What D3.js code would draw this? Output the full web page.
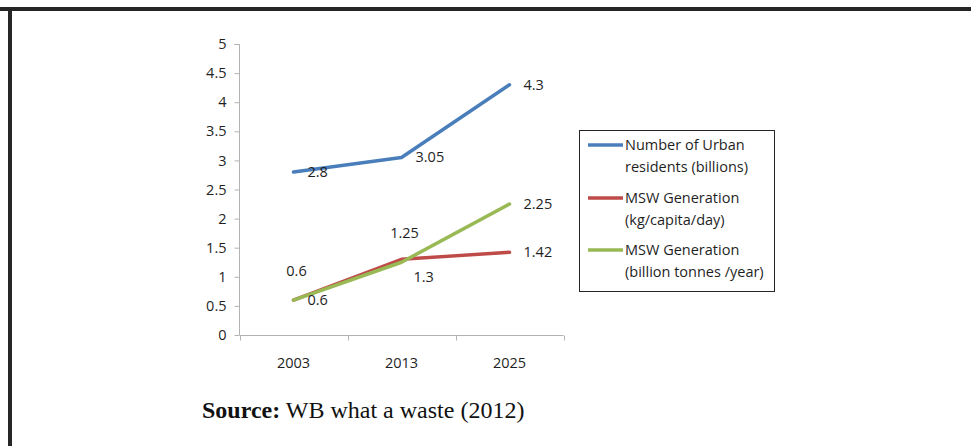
<!DOCTYPE html>
<html>
<head>
<meta charset="utf-8">
<script src="https://cdn.jsdelivr.net/npm/d3@7"></script>
<style>
  html, body { margin: 0; padding: 0; background: #fff; }
  svg { display: block; }
  .tick text, .lbl, .leg { font-family: "Open Sans", Lato, sans-serif; fill: #1f1f1f; }
</style>
</head>
<body>
<svg id="chart" width="971" height="446"></svg>
<script>
// Years on the category axis
const years = ["2003", "2013", "2025"];
// Series values
const urbanResidents = [2.8, 3.05, 4.3];      // billions
const mswPerCapita   = [0.6, 1.3, 1.42];      // kg/capita/day
const mswTotal       = [0.6, 1.25, 2.25];     // billion tonnes/year
// Value-axis ticks
const yTicks = [0, 0.5, 1, 1.5, 2, 2.5, 3, 3.5, 4, 4.5, 5];
// Legend text (two lines each)
const seriesNames = [
  ["Number of Urban", "residents (billions)"],
  ["MSW Generation", "(kg/capita/day)"],
  ["MSW Generation", "(billion tonnes /year)"]
];
// Where each point's value label sits relative to the point
const labelPlacement = [
  ["right", "right", "right"],
  ["above", "belowRight", "right"],
  ["right", "above", "right"]
];
const colors = ["#4a7ebb", "#be4b48", "#98b954"];

const FS = "14.5px";
const svg = d3.select("#chart");

// Outer frame (top and left rules)
svg.append("rect").attr("x", 0).attr("y", 7).attr("width", 971).attr("height", 4).attr("fill", "#262626");
svg.append("rect").attr("x", 8).attr("y", 7).attr("width", 4).attr("height", 439).attr("fill", "#262626");

const x = d3.scaleBand().domain(years).range([239.5, 563.5]);
const y = d3.scaleLinear().domain([0, 5]).range([335, 44]);

// Value axis
const yAxis = svg.append("g")
  .attr("transform", "translate(239.5,0)")
  .call(d3.axisLeft(y).tickValues(yTicks).tickSize(5).tickPadding(8).tickFormat(d3.format("")));
yAxis.selectAll("line, path").attr("stroke", "#b3b3b3");
yAxis.select("path").attr("d", `M-5,${y(5)+0.5}H0V${y(0)}`);
yAxis.selectAll("text").style("font-size", FS);

// Category axis
const xAxis = svg.append("g").attr("transform", `translate(0,${y(0) + 0.5})`);
xAxis.append("line").attr("x1", 239.5).attr("x2", 563.5).attr("stroke", "#b3b3b3");
const bounds = years.map(d => x(d)).concat([x.range()[1]]);
xAxis.selectAll("line.tk").data(bounds).enter().append("line").attr("class", "tk")
  .attr("x1", d => Math.round(d) + 0.5).attr("x2", d => Math.round(d) + 0.5)
  .attr("y1", 0).attr("y2", 5).attr("stroke", "#b3b3b3");
xAxis.selectAll("text").data(years).enter().append("text")
  .attr("class", "lbl")
  .attr("x", d => x(d) + x.bandwidth() / 2)
  .attr("y", 32)
  .attr("text-anchor", "middle")
  .style("font-size", FS)
  .text(d => d);

const series = [urbanResidents, mswPerCapita, mswTotal];
const line = d3.line()
  .x((d, i) => x(years[i]) + x.bandwidth() / 2)
  .y(d => y(d));

series.forEach((vals, s) => {
  svg.append("path")
    .datum(vals)
    .attr("d", line)
    .attr("fill", "none")
    .attr("stroke", colors[s])
    .attr("stroke-width", 3.5)
    .attr("stroke-linejoin", "round")
    .attr("stroke-linecap", "round");
});

// Value labels
series.forEach((vals, s) => {
  vals.forEach((v, i) => {
    const px = x(years[i]) + x.bandwidth() / 2;
    const py = y(v);
    const where = labelPlacement[s][i];
    let tx = px + 14, ty = py + 5, anchor = "start";
    if (where === "above") { tx = px + 3; ty = py - 24; anchor = "middle"; }
    if (where === "belowRight") { tx = px + 12; ty = py + 23; anchor = "start"; }
    svg.append("text").attr("class", "lbl")
      .attr("x", tx).attr("y", ty)
      .attr("text-anchor", anchor)
      .style("font-size", FS)
      .text(v);
  });
});

// Legend
const leg = svg.append("g");
leg.append("rect").attr("x", 579.5).attr("y", 130.5).attr("width", 195).attr("height", 161)
  .attr("fill", "#fff").attr("stroke", "#262626").attr("stroke-width", 1);
const entryY = [145, 198, 250];
seriesNames.forEach((name, s) => {
  leg.append("line").attr("x1", 588).attr("x2", 623)
    .attr("y1", entryY[s]).attr("y2", entryY[s])
    .attr("stroke", colors[s]).attr("stroke-width", 3.5);
  name.forEach((t, k) => {
    leg.append("text").attr("class", "leg")
      .attr("x", 625).attr("y", entryY[s] + 5 + k * 22)
      .style("font-size", FS)
      .text(t);
  });
});

// Source note
const src = svg.append("text")
  .attr("x", 202).attr("y", 418)
  .style("font-family", "'Liberation Serif', 'Times New Roman', serif")
  .style("font-size", "24px")
  .attr("fill", "#111");
src.append("tspan").attr("font-weight", "bold").text("Source:");
src.append("tspan").text(" WB what a waste (2012)");
</script>
</body>
</html>
